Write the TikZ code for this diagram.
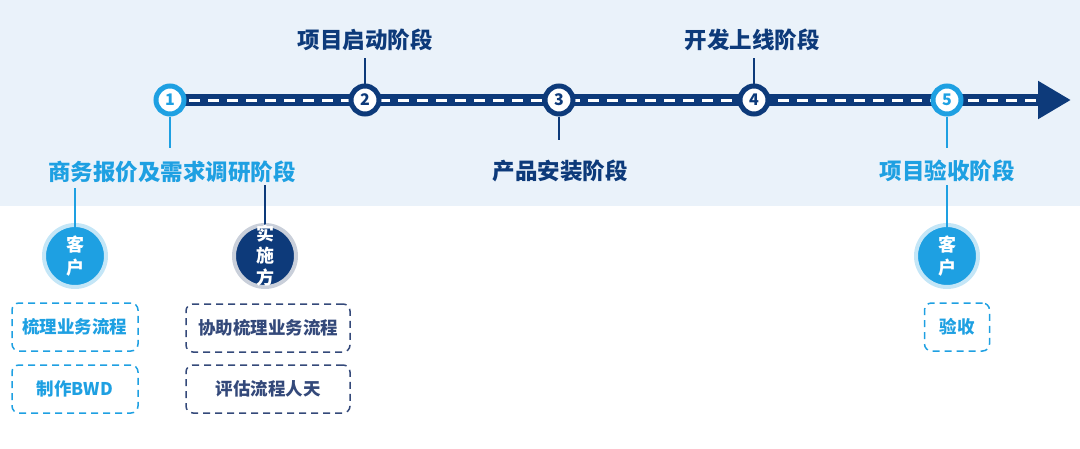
\documentclass[tikz,border=0pt]{standalone}
\usepackage{fontspec}
\usetikzlibrary{arrows.meta,positioning}
\newfontfamily\cjk{Noto Sans CJK SC}
\definecolor{navy}{HTML}{0D3A7A}
\definecolor{sky}{HTML}{1EA0E2}
\definecolor{band}{HTML}{EAF2FA}
\definecolor{skyhalo}{HTML}{C4E6F7}
\definecolor{navyhalo}{HTML}{C9CFDA}
\definecolor{navybox}{HTML}{34497A}

\begin{document}
\begin{tikzpicture}[x=1pt,y=-1pt,
  every node/.style={font=\cjk\bfseries},
  stage/.style={circle,fill=white,draw=#1,line width=5pt,minimum size=28pt,inner sep=0pt,text=#1,font=\cjk\bfseries\fontsize{16}{16}\selectfont},
  phase/.style={text=#1,font=\cjk\bfseries\fontsize{22.5}{22.5}\selectfont,inner sep=2pt},
  role/.style={circle,fill=#1,draw=#1halo,line width=4pt,minimum size=62pt,inner sep=0pt,text=white,align=center,font=\cjk\bfseries\fontsize{18}{23}\selectfont},
  roletext/.style={text=white,align=center,inner sep=0pt,font=\cjk\bfseries\fontsize{18}{22}\selectfont},
  task/.style={draw=#1,rounded corners=7pt,dash pattern=on 7pt off 5pt,line width=1.5pt,text=#1,minimum height=48pt,align=center,font=\cjk\bfseries\fontsize{17.5}{17.5}\selectfont},
  tick/.style={draw=#1,line width=2pt}]

\useasboundingbox (0,0) rectangle (1080,448);
\fill[band] (0,0) rectangle (1080,206);

% --- timeline ---------------------------------------------------------
\coordinate (start) at (170,100);
\coordinate (tip) at (1071,100);
\coordinate (dashend) at (1036,100);
\draw[navy,line width=12pt,-{Triangle[length=33pt,width=36pt]}] (start) -- (tip);
\draw[white,line width=3pt,dash pattern=on 11pt off 8pt] (start) -- (dashend);

\node[stage=sky]  (n1) at (170,100) {1};
\node[stage=navy] (n2) at (365,100) {2};
\node[stage=navy] (n3) at (559,100) {3};
\node[stage=navy] (n4) at (754,100) {4};
\node[stage=sky]  (n5) at (947,100) {5};

% --- phase labels -----------------------------------------------------
\node[phase=sky]  (p1) at (172,172) {商务报价及需求调研阶段};
\node[phase=navy] (p2) at (365,40)  {项目启动阶段};
\node[phase=navy] (p3) at (560,171) {产品安装阶段};
\node[phase=navy] (p4) at (752,40)  {开发上线阶段};
\node[phase=sky]  (p5) at (947,171) {项目验收阶段};

\coordinate (t1) at (170,148);
\coordinate (t2) at (365,58);
\coordinate (t3) at (559,140);
\coordinate (t4) at (754,58);
\coordinate (t5) at (947,148);
\draw[tick=sky]  (n1) -- (t1);
\draw[tick=navy] (n2) -- (t2);
\draw[tick=navy] (n3) -- (t3);
\draw[tick=navy] (n4) -- (t4);
\draw[tick=sky]  (n5) -- (t5);

% --- roles ------------------------------------------------------------
\node[role=sky]  (r1) at (75,256)  {客\\户};
\node[role=navy] (r2) at (265,256) {};
\node[role=sky]  (r5) at (947,256) {客\\户};

\coordinate (u1) at (75,188);
\coordinate (u2) at (265,185);
\coordinate (u5) at (947,185);
\draw[tick=sky]  (u1) -- ([yshift=-7pt]r1.north);
\draw[tick=navy] (u2) -- ([yshift=-7pt]r2.north);
\draw[tick=sky]  (u5) -- ([yshift=-7pt]r5.north);

\node[roletext]  (r2t) at (r2) {实\\施\\方};

% --- tasks ------------------------------------------------------------
\node[task=sky,minimum width=126pt]      (a1) at (75,327)  {梳理业务流程};
\node[task=sky,minimum width=126pt]      (a2) at (75,389)  {制作BWD};
\node[task=navybox,minimum width=164pt]  (b1) at (268,328) {协助梳理业务流程};
\node[task=navybox,minimum width=164pt]  (b2) at (268,389) {评估流程人天};
\node[task=sky,minimum width=65pt]       (c1) at (957,327) {验收};
\end{tikzpicture}
\end{document}
